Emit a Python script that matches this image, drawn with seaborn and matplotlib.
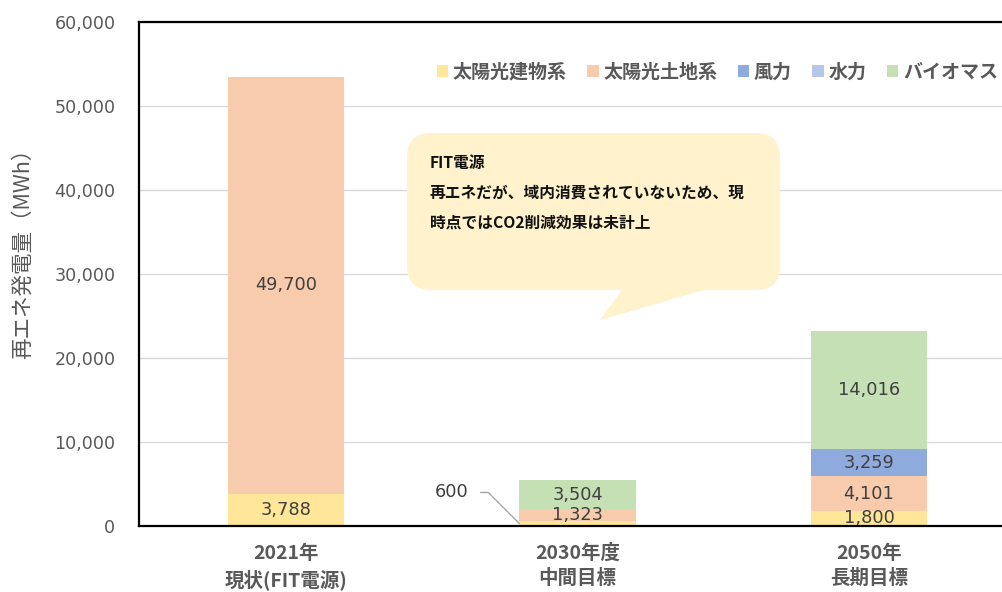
import numpy as np
import matplotlib
matplotlib.use("Agg")
import matplotlib.pyplot as plt
import matplotlib.transforms as mtransforms
from matplotlib.patches import FancyBboxPatch, Polygon
from matplotlib.ticker import StrMethodFormatter
import seaborn as sns

# ---- data -------------------------------------------------------------
categories = ["2021年\n現状(FIT電源)", "2030年度\n中間目標", "2050年\n長期目標"]
solar_building = [3788, 600, 1800]
solar_land = [49700, 1323, 4101]
wind = [0, 0, 3259]
hydro = [0, 0, 0]
biomass = [0, 3504, 14016]
series_names = ["太陽光建物系", "太陽光土地系", "風力", "水力", "バイオマス"]
series_colors = ["#FFE699", "#F8CBAD", "#8FAADC", "#B4C7E7", "#C5E0B4"]
y_ticks = [0, 10000, 20000, 30000, 40000, 50000, 60000]
y_label = "再エネ発電量（MWh）"
callout_lines = ["FIT電源",
                 "再エネだが、域内消費されていないため、現",
                 "時点ではCO2削減効果は未計上"]

series_values = [solar_building, solar_land, wind, hydro, biomass]

# ---- style ------------------------------------------------------------
sns.set_style("white")
plt.rcParams["font.family"] = ["DejaVu Sans", "Noto Sans CJK JP"]
JP = ["Noto Sans CJK JP", "DejaVu Sans"]
GREY_TXT = "#595959"
LABEL_TXT = "#404040"

W, H = 1003, 592
fig = plt.figure(figsize=(W / 100, H / 100), dpi=100)
ax = fig.add_axes([139 / W, 66 / H, 864 / W, 504 / H])

# ---- stacked bars -----------------------------------------------------
bottom = np.zeros(len(categories))
for name, vals, color in zip(series_names, series_values, series_colors):
    sns.barplot(x=categories, y=vals, color=color, saturation=1, width=0.4,
                bottom=bottom.copy(), linewidth=0, ax=ax, label=name,
                errorbar=None, zorder=2)
    bottom += np.asarray(vals, dtype=float)

# segment value labels
for cont, vals in zip(ax.containers, series_values):
    labels = [f"{v:,}" if v >= 1000 else "" for v in vals]
    ax.bar_label(cont, labels=labels, label_type="center",
                 color=LABEL_TXT, fontsize=12.8, zorder=3)
    for rect, v in zip(cont, vals):
        if 0 < v < 1000:
            ax.annotate(f"{v:,}",
                        xy=(rect.get_x(), rect.get_y() + rect.get_height() / 2),
                        xytext=(-51, 31), textcoords="offset pixels",
                        ha="right", va="center", color=LABEL_TXT, fontsize=12.8,
                        arrowprops=dict(arrowstyle="-", color="#A6A6A6", lw=1,
                                        shrinkA=6.5, shrinkB=0,
                                        connectionstyle="angle,angleA=0,angleB=135,rad=0"))

# ---- axes -------------------------------------------------------------
ax.set_xlim(-0.505, 2.46)
ax.set_ylim(0, 60000)
ax.set_yticks(y_ticks)
ax.yaxis.set_major_formatter(StrMethodFormatter("{x:,.0f}"))
ax.yaxis.grid(True, color="#D9D9D9", lw=1, zorder=0)
ax.xaxis.grid(False)
ax.set_axisbelow(True)
ax.tick_params(axis="y", length=0, pad=17, labelsize=12.6, labelcolor=GREY_TXT)
ax.tick_params(axis="x", length=0, pad=13, labelsize=14, labelcolor=GREY_TXT)
for lbl in ax.get_xticklabels():
    lbl.set_fontweight("bold")
    lbl.set_family(JP)
    lbl.set_linespacing(1.38)
ax.set_xlabel("")
ax.set_ylabel(y_label, fontsize=15.5, color=GREY_TXT, family=JP)
ax.yaxis.set_label_coords(-0.122, 0.55)

for side in ("left", "top", "bottom"):
    ax.spines[side].set_color("black")
    ax.spines[side].set_linewidth(1.6)
ax.spines["right"].set_visible(False)

# ---- legend -----------------------------------------------------------
ax.legend(handles=list(ax.containers), labels=series_names, ncol=5,
          loc="center right", bbox_to_anchor=(998 / W, 1 - 72 / H),
          bbox_transform=fig.transFigure, frameon=False, borderpad=0,
          borderaxespad=0, handlelength=0.6, handleheight=0.6,
          handletextpad=0.25, columnspacing=1.07,
          prop=dict(family=JP, weight="bold", size=13.7), labelcolor=GREY_TXT)

# ---- callout ----------------------------------------------------------
ident = mtransforms.IdentityTransform()
CALLOUT = "#FFF2CC"
box = FancyBboxPatch((407, H - 290), 373, 157,
                     boxstyle="round,pad=0,rounding_size=24",
                     transform=ident, facecolor=CALLOUT, edgecolor="none",
                     zorder=5)
tail = Polygon([(625, H - 286), (600, H - 320), (718, H - 286)],
               closed=True, transform=ident, facecolor=CALLOUT,
               edgecolor="none", zorder=5)
fig.add_artist(box)
fig.add_artist(tail)
for i, line in enumerate(callout_lines):
    fig.text(430, H - (163 + 30 * i), line, transform=ident, ha="left",
             va="center", fontsize=11.3, fontweight="bold", family=JP,
             color="#111111", zorder=6)

fig.savefig("out.png", dpi=100)
